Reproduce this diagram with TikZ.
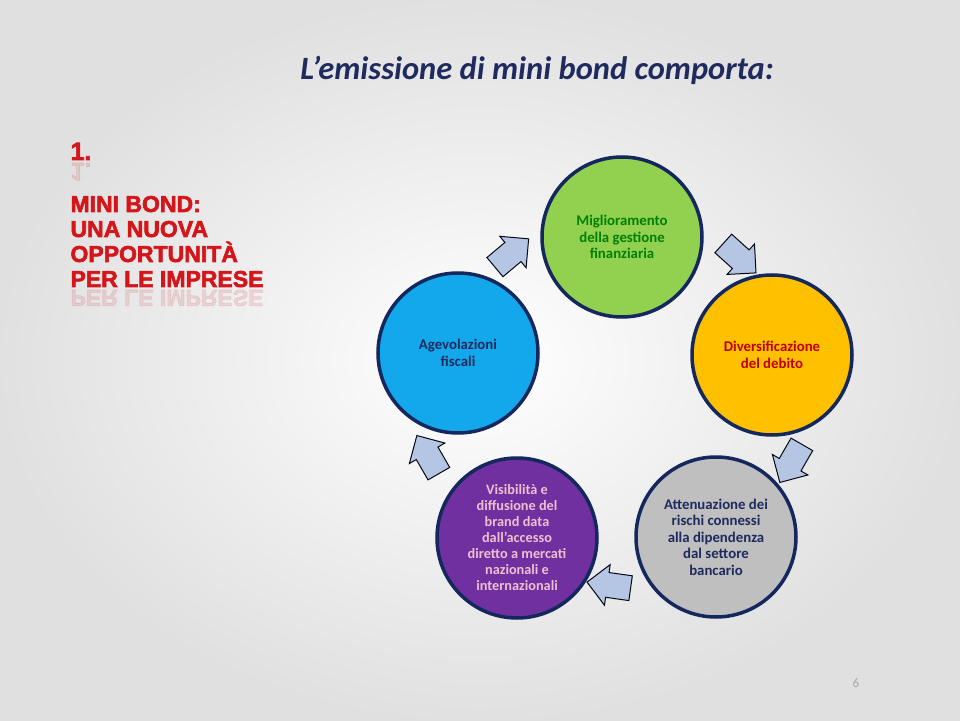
\documentclass[tikz,border=0pt]{standalone}
\usepackage{fontspec}
\setmainfont{Carlito}
\newfontfamily\arialfont{Liberation Sans}[BoldFeatures={FakeBold=2.5}]
\usetikzlibrary{shapes.arrows}

\definecolor{navy}{HTML}{1F2A5E}
\definecolor{ringline}{HTML}{14285E}
\definecolor{titlered}{HTML}{D4161B}
\definecolor{greenfill}{HTML}{92D050}
\definecolor{bluefill}{HTML}{13A8EC}
\definecolor{orangefill}{HTML}{FFC000}
\definecolor{purplefill}{HTML}{7030A0}
\definecolor{grayfill}{HTML}{BFBFBF}
\definecolor{arrowfill}{HTML}{B4C6E4}

\begin{document}
\begin{tikzpicture}[x=1pt, y=1pt,
    ring/.style={circle, draw=ringline, line width=3.5pt, minimum size=160pt,
      align=center, font=\fontsize{14.8}{16.5}\selectfont\bfseries},
    flowarrow/.style={single arrow, draw=black!80!ringline, line width=1pt, fill=arrowfill,
      minimum height=44pt, inner xsep=0pt, inner ysep=12pt,
      single arrow head extend=8pt},
    redline/.style={anchor=base west, text=titlered,
      font=\arialfont\fontsize{23}{25}\selectfont\bfseries}]
  % background
  \useasboundingbox (-617,-315) rectangle (343,405);
  \shade[inner color=white, outer color=black!12] (-617,-315) rectangle (343,405);

  % title
  \node[text=navy, font=\fontsize{32.5}{36}\selectfont\bfseries\itshape] (title) at (-80,335)
    {L’emissione di mini bond comporta:};

  % left heading
  \node[redline, font=\arialfont\fontsize{25}{27}\selectfont\bfseries] (num) at (-550,245) {1.};
  \node[redline, opacity=0.12, yscale=-1, font=\arialfont\fontsize{25}{27}\selectfont\bfseries] (numrefl) at (-550,242) {1.};
  \node[redline] (l1) at (-550,193) {MINI BOND:};
  \node[redline] (l2) at (-550,168) {UNA NUOVA};
  \node[redline] (l3) at (-550,143) {OPPORTUNITÀ};
  \node[redline] (l4) at (-550,118) {PER LE IMPRESE};
  \node[redline, opacity=0.12, yscale=-1] (l4refl) at (-550,115) {PER LE IMPRESE};

  % circles
  \node[ring, fill=greenfill, text=green!50!black] (gestione) at (5,168)
    {Miglioramento\\della gestione\\finanziaria};
  \node[ring, fill=orangefill, text=red!75!black] (debito) at (155,50)
    {Diversificazione\\del debito};
  \node[ring, fill=grayfill, text=navy] (rischi) at (99,-132)
    {Attenuazione dei\\rischi connessi\\alla dipendenza\\dal settore\\bancario};
  \node[ring, fill=purplefill, text=purple!25!white, font=\fontsize{14.3}{16}\selectfont\bfseries] (visibilita) at (-100,-133)
    {Visibilità e\\diffusione del\\brand data\\dall’accesso\\diretto a mercati\\nazionali e\\internazionali};
  \node[ring, fill=bluefill, text=navy] (fiscali) at (-159,52)
    {Agevolazioni\\fiscali};

  % arrows between circles
  \node[flowarrow, rotate=40] (a1) at (-110,148) {};
  \node[flowarrow, rotate=-42] (a2) at (118,151) {};
  \node[flowarrow, rotate=-120] (a3) at (177,-53) {};
  \node[flowarrow, rotate=172] (a4) at (-2,-181) {};
  \node[flowarrow, rotate=120] (a5) at (-186,-55) {};

  % page number
  \node[text=black!35, font=\fontsize{13}{15}\selectfont] (page) at (239,-278) {6};
\end{tikzpicture}
\end{document}
